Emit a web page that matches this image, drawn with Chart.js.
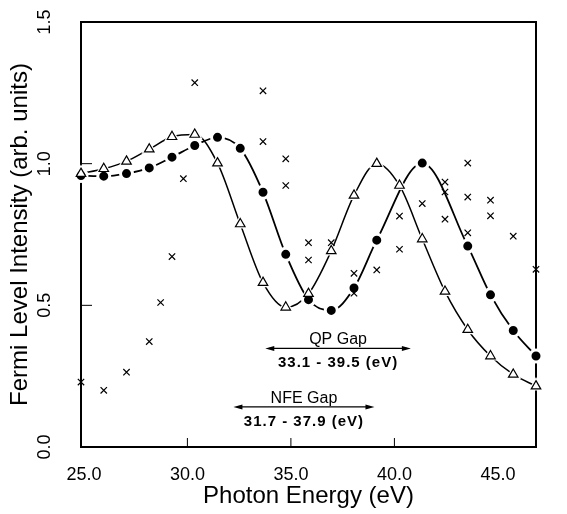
<!DOCTYPE html>
<html>
<head>
<meta charset="utf-8">
<script src="https://cdn.jsdelivr.net/npm/chart.js@4.4.1/dist/chart.umd.min.js"></script>
<style>
  html, body { margin: 0; padding: 0; background: #fff; }
  #wrap { width: 567px; height: 514px; }
</style>
</head>
<body>
<div id="wrap"><canvas id="gapChart" width="567" height="514"></canvas></div>
<script>
// photon energies of the two calculated curves (eV)
const energy = [25, 26, 27, 28, 29, 30, 31, 32, 33, 34, 35, 36, 37, 38, 39, 40, 41, 42, 43, 44, 45];
// open triangles
const nfeCurve = [0.965, 0.982, 1.008, 1.051, 1.095, 1.103, 1.002, 0.787, 0.580, 0.493, 0.541,
                  0.692, 0.888, 1.000, 0.923, 0.734, 0.549, 0.414, 0.321, 0.256, 0.215];
// filled circles (no points at 39 and 41)
const qpCurve = [0.958, 0.956, 0.965, 0.985, 1.023, 1.064, 1.093, 1.054, 0.899, 0.680, 0.520,
                 0.482, 0.561, 0.730, null, 1.002, null, 0.709, 0.537, 0.411, 0.321];
// crosses
const measuredEnergy = [25, 26, 27, 28, 28.5, 29, 29.5, 30, 33, 33, 34, 34, 35, 35, 36, 37, 37, 38,
                        39, 39, 40, 41, 41, 41, 42, 42, 42, 43, 43, 44, 45];
const measuredSignal = [0.229, 0.200, 0.264, 0.372, 0.510, 0.672, 0.947, 1.286, 1.257, 1.078, 1.017,
                        0.923, 0.721, 0.660, 0.721, 0.613, 0.543, 0.625, 0.815, 0.698, 0.859, 0.935,
                        0.900, 0.804, 1.002, 0.882, 0.756, 0.871, 0.816, 0.744, 0.627];

// axis labels
const xTickLabels = [25, 30, 35, 40, 45];
const xInnerTicks = [30, 35, 40];
const yTicks = [0, 0.5, 1.0, 1.5];
const yInnerTicks = [0.5, 1.0];
// the printed energy labels sit on a slightly compressed scale in the original figure
const labelAxisMin = 24.86;
const labelAxisMax = 46.84;

// gap annotations
const gapNames = ['QP Gap', 'NFE Gap'];
const gapFrom = [33.1, 31.7];
const gapTo = [39.5, 37.9];
const gapLevel = [0.348, 0.1415];

const FONT = '"Liberation Sans", Arial, Helvetica, sans-serif';
Chart.defaults.font.family = FONT;
Chart.defaults.color = '#000';

const toPoints = (xs, ys) => xs.map((v, i) => ({ x: v, y: ys[i] }));

// frame, inner ticks and gap arrows
const paperPlugin = {
  id: 'paper',
  beforeDatasetsDraw(chart) {
    const { ctx, chartArea: a, scales } = chart;
    ctx.save();
    ctx.strokeStyle = '#000';
    ctx.lineWidth = 1;
    ctx.beginPath();
    xInnerTicks.forEach(v => {
      const px = scales.xt.getPixelForValue(v);
      ctx.moveTo(px, a.bottom);
      ctx.lineTo(px, a.bottom - 9);
    });
    yInnerTicks.forEach(v => {
      const py = scales.y.getPixelForValue(v);
      ctx.moveTo(a.left, py);
      ctx.lineTo(a.left + 11, py);
    });
    ctx.stroke();
    ctx.lineWidth = 2;
    ctx.strokeRect(a.left, a.top, a.right - a.left, a.bottom - a.top);
    ctx.restore();
  },
  afterDatasetsDraw(chart) {
    const { ctx, scales } = chart;
    ctx.save();
    ctx.strokeStyle = '#000';
    ctx.fillStyle = '#000';
    gapNames.forEach((name, i) => {
      const x0 = scales.x.getPixelForValue(gapFrom[i]);
      const x1 = scales.x.getPixelForValue(gapTo[i]);
      const py = scales.y.getPixelForValue(gapLevel[i]);
      ctx.lineWidth = 1.2;
      ctx.beginPath();
      ctx.moveTo(x0 + 4, py);
      ctx.lineTo(x1 - 4, py);
      ctx.stroke();
      ctx.beginPath();
      ctx.moveTo(x0, py); ctx.lineTo(x0 + 9, py - 2.5); ctx.lineTo(x0 + 9, py + 2.5); ctx.closePath();
      ctx.moveTo(x1, py); ctx.lineTo(x1 - 9, py - 2.5); ctx.lineTo(x1 - 9, py + 2.5); ctx.closePath();
      ctx.fill();

      const mid = (x0 + x1) / 2;
      ctx.textAlign = 'center';
      ctx.textBaseline = 'alphabetic';
      ctx.font = '16px ' + FONT;
      ctx.fillText(name, mid, py - 4);
      ctx.font = 'bold 15px ' + FONT;
      ctx.letterSpacing = '1px';
      ctx.textBaseline = 'top';
      ctx.fillText(gapFrom[i].toFixed(1) + ' - ' + gapTo[i].toFixed(1) + ' (eV)', mid, py + 7);
      ctx.letterSpacing = '0px';
    });
    ctx.restore();
  }
};

new Chart(document.getElementById('gapChart'), {
  type: 'line',
  data: {
    datasets: [
      {
        label: 'measured',
        data: toPoints(measuredEnergy, measuredSignal),
        showLine: false,
        pointStyle: 'crossRot',
        pointRadius: 4.5,
        pointBorderWidth: 1.2,
        pointBorderColor: '#000',
        order: 0
      },
      {
        label: 'NFE markers',
        data: toPoints(energy, nfeCurve),
        showLine: false,
        pointStyle: 'triangle',
        pointRadius: 5.5,
        pointBorderWidth: 1.2,
        pointBorderColor: '#000',
        pointBackgroundColor: '#fff',
        order: 1
      },
      {
        label: 'QP markers',
        data: toPoints(energy, qpCurve),
        showLine: false,
        pointStyle: 'circle',
        pointRadius: 6,
        pointBorderWidth: 3,
        pointBorderColor: '#fff',
        pointBackgroundColor: '#000',
        order: 2
      },
      {
        label: 'NFE halo',
        data: toPoints(energy, nfeCurve),
        showLine: false,
        pointStyle: 'triangle',
        pointRadius: 9,
        pointBorderWidth: 0,
        pointBorderColor: '#fff',
        pointBackgroundColor: '#fff',
        order: 3
      },
      {
        label: 'NFE',
        data: toPoints(energy, nfeCurve),
        borderColor: '#000',
        borderWidth: 1.5,
        pointRadius: 0,
        cubicInterpolationMode: 'monotone',
        order: 4
      },
      {
        label: 'QP',
        data: toPoints(energy, qpCurve),
        borderColor: '#000',
        borderWidth: 1.8,
        pointRadius: 0,
        spanGaps: true,
        cubicInterpolationMode: 'monotone',
        order: 5
      }
    ]
  },
  options: {
    responsive: false,
    animation: false,
    events: [],
    clip: false,
    layout: { padding: { top: 22, right: 31, left: 0, bottom: 0 } },
    plugins: {
      legend: { display: false },
      tooltip: { enabled: false }
    },
    scales: {
      x: {
        type: 'linear',
        min: 25,
        max: 45,
        display: false
      },
      xt: {
        type: 'linear',
        position: 'bottom',
        min: labelAxisMin,
        max: labelAxisMax,
        grid: { display: false, drawTicks: false },
        border: { display: false },
        afterBuildTicks: axis => { axis.ticks = xTickLabels.map(v => ({ value: v })); },
        afterFit: axis => { axis.height = 67; axis.paddingLeft = 0; axis.paddingRight = 0; },
        ticks: {
          autoSkip: false,
          maxRotation: 0,
          padding: 17,
          font: { size: 18 },
          callback: v => v.toFixed(1)
        },
        title: {
          display: true,
          text: 'Photon Energy (eV)',
          font: { size: 24 },
          padding: { top: 0, bottom: 3 }
        }
      },
      y: {
        type: 'linear',
        position: 'left',
        min: 0,
        max: 1.5,
        grid: { display: false, drawTicks: false },
        border: { display: false },
        afterBuildTicks: axis => { axis.ticks = yTicks.map(v => ({ value: v })); },
        afterFit: axis => { axis.width = 81; axis.paddingTop = 0; axis.paddingBottom = 0; },
        ticks: {
          autoSkip: false,
          minRotation: 90,
          maxRotation: 90,
          crossAlign: 'center',
          padding: 23,
          font: { size: 18 },
          callback: v => v.toFixed(1)
        },
        title: {
          display: true,
          text: 'Fermi Level Intensity (arb. units)',
          font: { size: 24 },
          padding: { top: 6, bottom: 0 }
        }
      }
    }
  },
  plugins: [paperPlugin]
});
</script>
</body>
</html>
